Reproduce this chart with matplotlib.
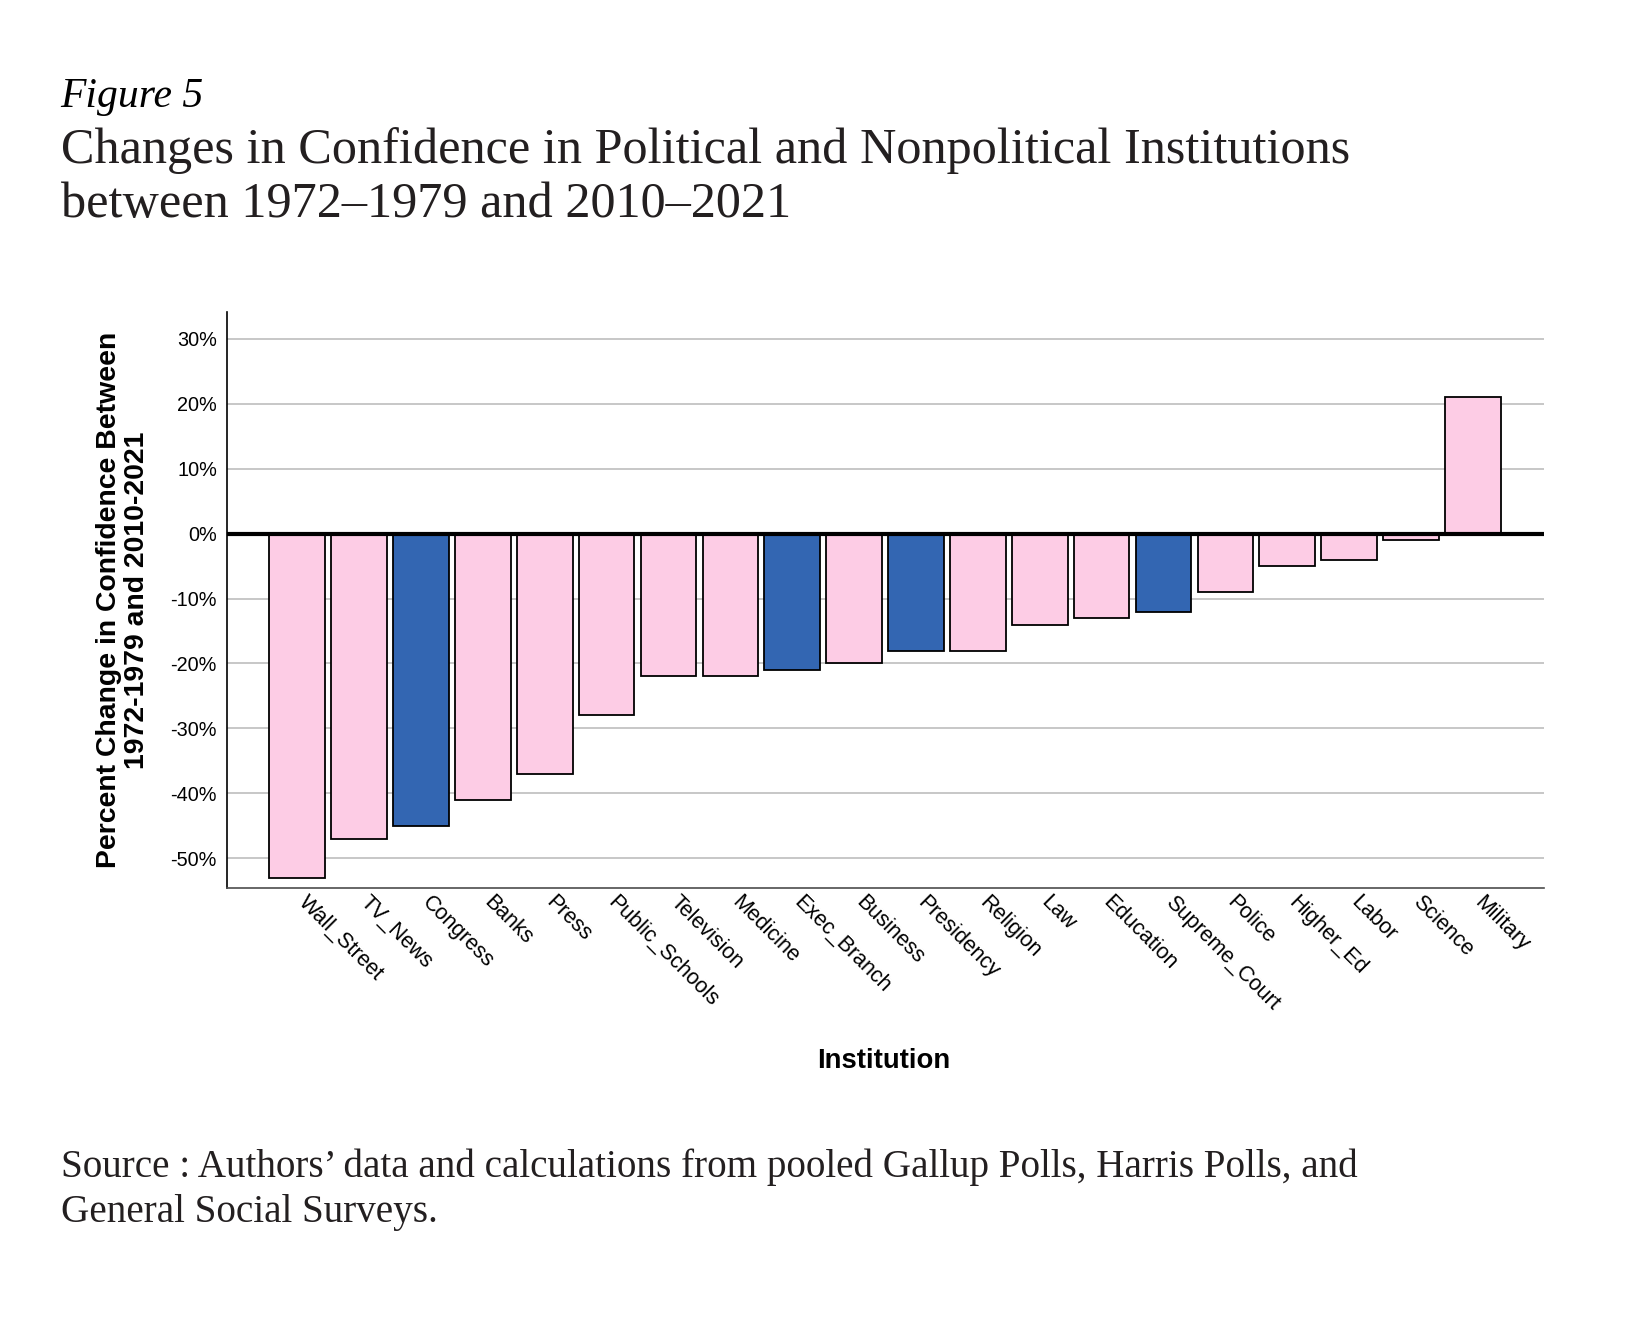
import matplotlib
matplotlib.use("Agg")
import matplotlib.pyplot as plt
import matplotlib.transforms as mtransforms
import numpy as np

# values (percentage points)
institutions = ["Wall_Street", "TV_News", "Congress", "Banks", "Press",
                "Public_Schools", "Television", "Medicine", "Exec_Branch",
                "Business", "Presidency", "Religion", "Law", "Education",
                "Supreme_Court", "Police", "Higher_Ed", "Labor", "Science",
                "Military"]
change = [-53, -47, -45, -41, -37, -28, -22, -22, -21, -20, -18, -18,
          -14, -13, -12, -9, -5, -4, -1, 21]
political = ["Congress", "Exec_Branch", "Presidency", "Supreme_Court"]
ytick_vals = [-50, -40, -30, -20, -10, 0, 10, 20, 30]

pink = "#FDCCE5"
blue = "#3366B2"
colors = [blue if n in political else pink for n in institutions]

serif = "Liberation Serif"
sans = "Liberation Sans"

fig = plt.figure(figsize=(16.4, 13.18), dpi=100)
ax = fig.add_axes([0.1382, 0.3265, 0.8033, 0.4368])

x = np.arange(len(institutions))
ax.bar(x, change, width=0.9, color=colors, edgecolor="black",
       linewidth=1.3, zorder=3)
ax.axhline(0, color="black", linewidth=3, zorder=4)

ax.set_xlim(-1.14, 20.15)
ax.set_ylim(-54.5, 34.1)
ax.set_yticks(ytick_vals)
ax.set_yticklabels(["%d%%" % v for v in ytick_vals], fontsize=14.3,
                   family=sans)
ax.set_xticks(x)
ax.set_xticklabels([])
ax.tick_params(axis="both", length=0)
ax.tick_params(axis="y", pad=7)

# slanted category labels, starting right at each bar centre
shift = mtransforms.ScaledTranslation(12 / 100, -4 / 100, fig.dpi_scale_trans)
for xi, name in zip(x, institutions):
    ax.text(xi, 0, name, transform=ax.get_xaxis_transform() + shift,
            rotation=-45, rotation_mode="anchor", ha="left", va="top",
            fontsize=15.5, family=sans)

ax.grid(axis="y", color="#BDBDBD", linewidth=1.2, zorder=0)
ax.set_axisbelow(True)
for side in ["top", "right"]:
    ax.spines[side].set_visible(False)
ax.spines["left"].set_color("black")
ax.spines["left"].set_linewidth(1.2)
ax.spines["bottom"].set_color("#4D4D4D")
ax.spines["bottom"].set_linewidth(1.2)

ax.text(-0.079, 0.5, "Percent Change in Confidence Between\n1972-1979 and 2010-2021",
        transform=ax.transAxes, rotation=90, ha="center", va="center",
        multialignment="center", fontsize=20.4, fontweight="bold", family=sans,
        linespacing=1.1)
fig.text(0.539, 0.195, "Institution", ha="center", va="center",
         fontsize=19.8, fontweight="bold", family=sans)

# heading and source note
fig.text(0.037, 0.919, "Figure 5", fontsize=30, style="italic",
         family=serif, va="baseline")
fig.text(0.037, 0.8766,
         "Changes in Confidence in Political and Nonpolitical Institutions",
         fontsize=36.2, family=serif, va="baseline", color="#231F20")
fig.text(0.037, 0.8356, "between 1972\u20131979 and 2010\u20132021",
         fontsize=36.2, family=serif, va="baseline", color="#231F20")
fig.text(0.037, 0.107,
         "Source : Authors\u2019 data and calculations from pooled Gallup Polls, Harris Polls, and",
         fontsize=28.2, family=serif, va="baseline", color="#231F20")
fig.text(0.037, 0.0728, "General Social Surveys.",
         fontsize=28.2, family=serif, va="baseline", color="#231F20")

fig.savefig("out.png", dpi=100)
